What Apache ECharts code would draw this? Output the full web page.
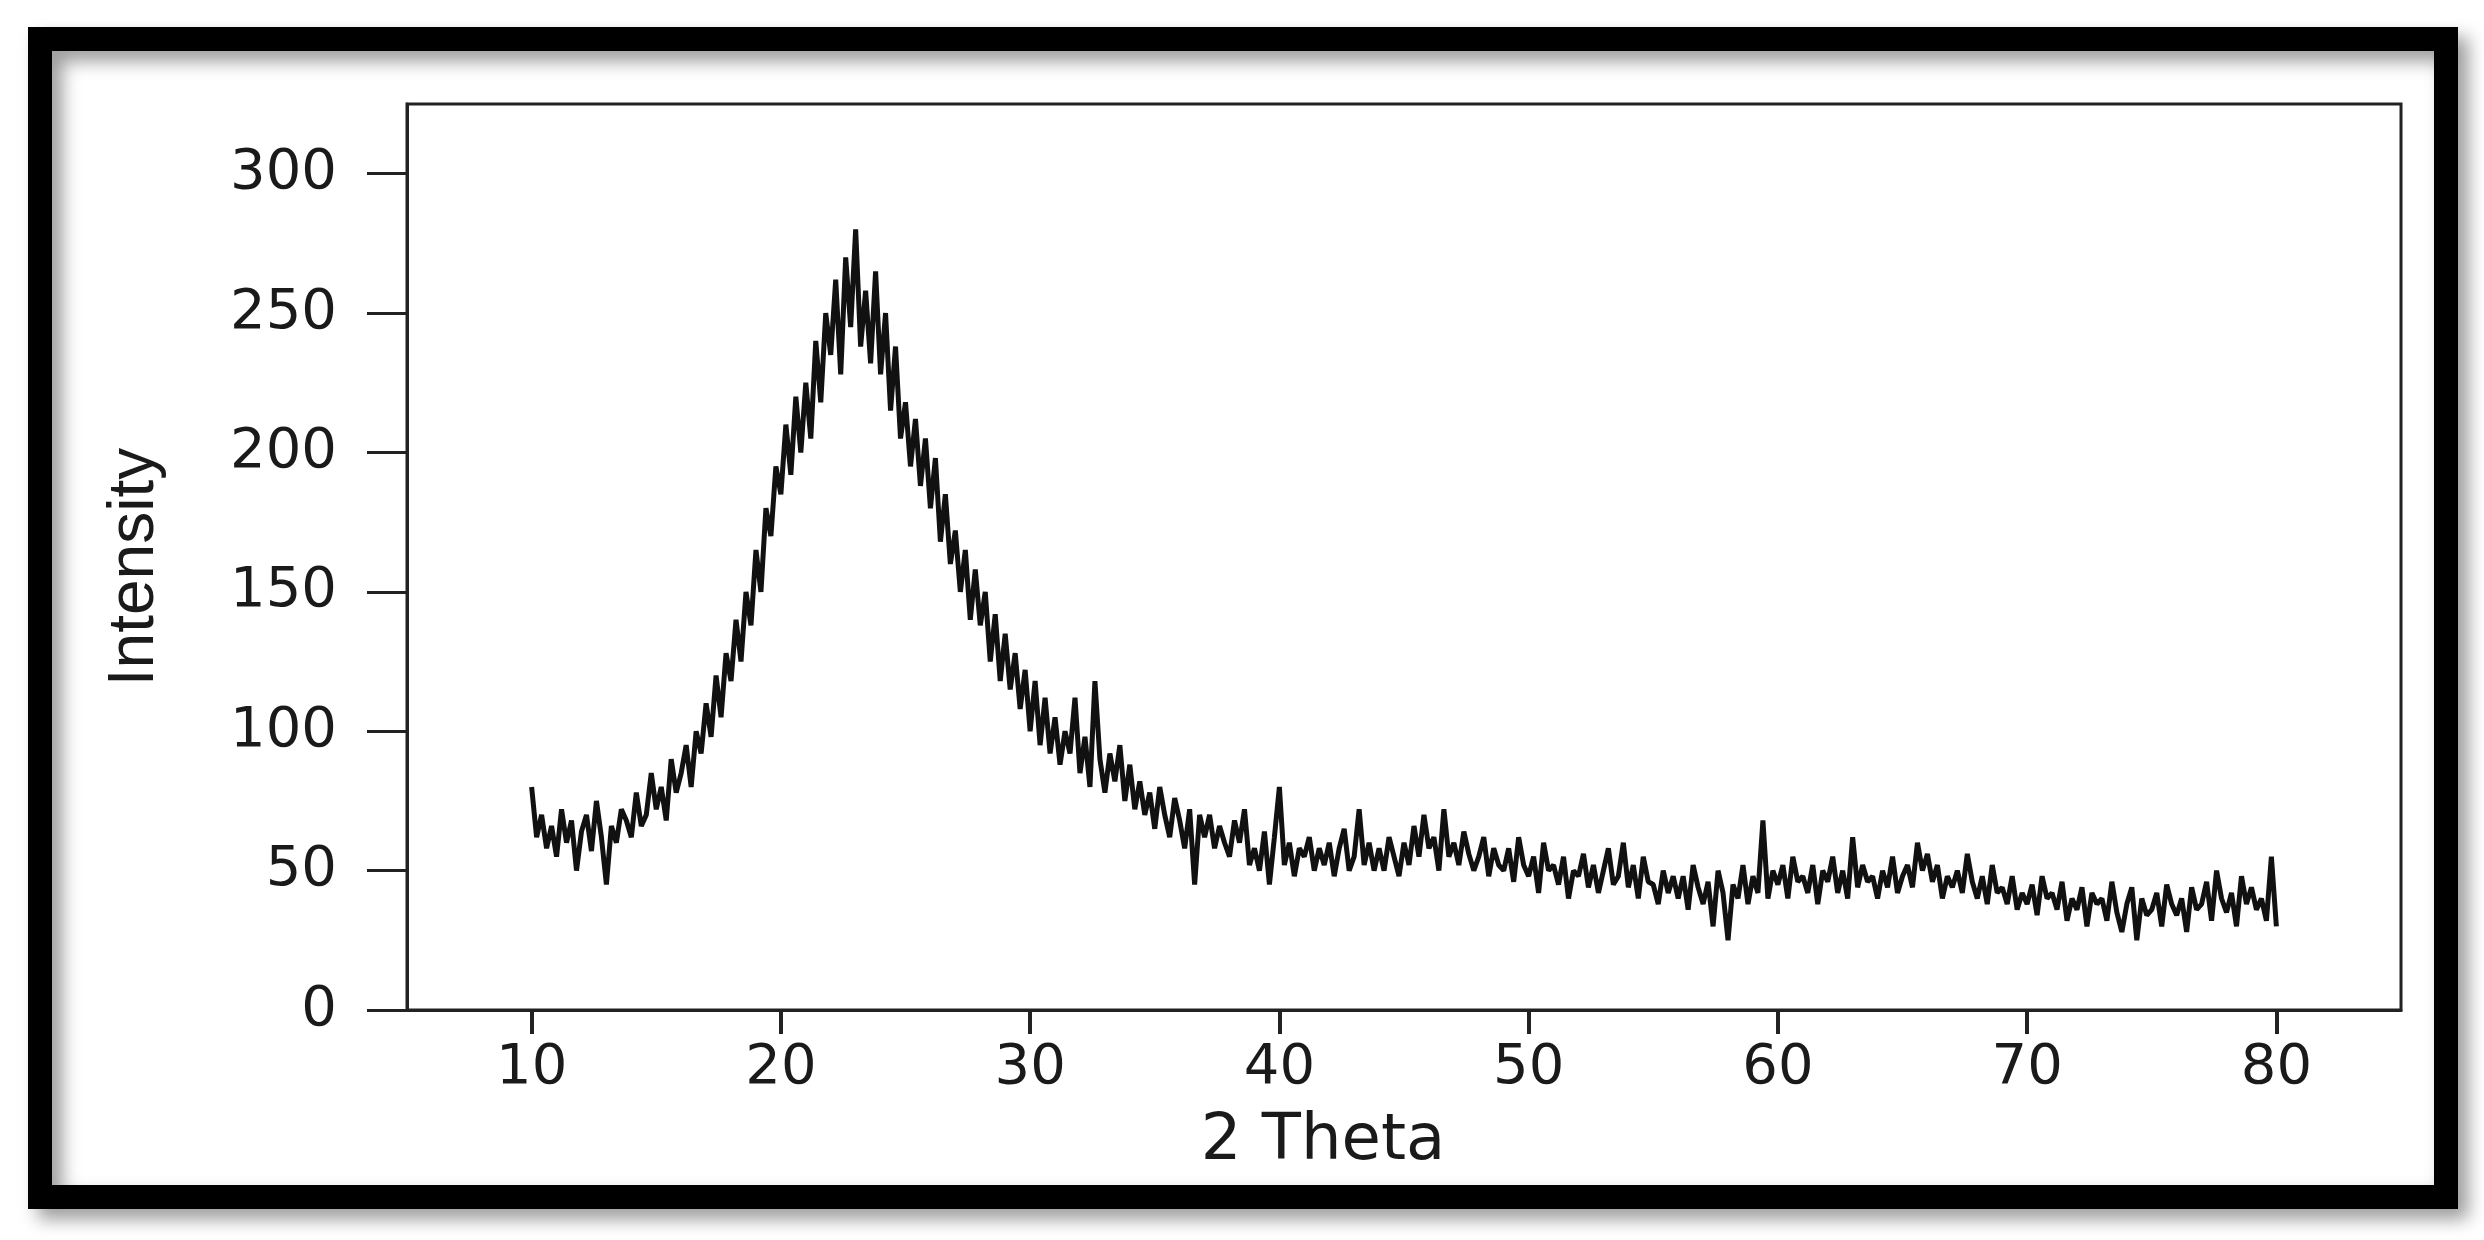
<!DOCTYPE html>
<html><head><meta charset="utf-8">
<script src="https://cdn.jsdelivr.net/npm/echarts@6/dist/echarts.min.js"></script>
<style>html,body{margin:0;padding:0;background:#fff}#c{width:2484px;height:1240px}</style>
</head><body><div id="c"></div>
<script>
const startAngle = 10, angleStep = 0.2;
const intensity = [
80,62,70,58,66, 55,72,60,68,50, 64,70,57,75,62, 45,66,60,72,68, 62,78,66,70,85,
72,80,68,90,78, 85,95,80,100,92, 110,98,120,105,128, 118,140,125,150,138, 165,150,180,170,195,
185,210,192,220,200, 225,205,240,218,250, 235,262,228,270,245, 280,238,258,232,265, 228,250,215,238,205,
218,195,212,188,205, 180,198,168,185,160, 172,150,165,140,158, 138,150,125,142,118, 135,115,128,108,122,
100,118,95,112,92, 105,88,100,92,112, 85,98,80,118,90, 78,92,82,95,75, 88,72,82,70,78,
65,80,70,62,76, 68,58,72,45,70, 62,70,58,66,60, 55,68,60,72,52, 58,50,64,45,62,
80,52,60,48,58, 55,62,50,58,52, 60,48,58,65,50, 55,72,52,60,50, 58,50,62,55,48,
60,52,66,55,70, 58,62,50,72,55, 60,52,64,56,50, 55,62,48,58,52, 50,58,46,62,52,
48,55,42,60,50, 52,45,55,40,50, 48,56,44,52,42, 50,58,45,48,60, 44,52,40,55,46,
45,38,50,42,48, 40,48,36,52,44, 38,46,30,50,42, 25,45,40,52,38, 48,42,68,40,50,
45,52,40,55,46, 48,42,52,38,50, 46,55,42,50,40, 62,44,52,46,48, 40,50,44,55,42,
48,52,44,60,50, 56,46,52,40,48, 44,50,42,56,46, 40,48,38,52,42, 44,38,48,36,42,
38,45,34,48,40, 42,36,46,32,40, 36,44,30,42,38, 40,32,46,35,28, 38,44,25,40,34,
36,42,30,45,38, 34,40,28,44,36, 38,46,32,50,40, 35,42,30,48,38, 44,36,40,32,55,
30
];
const xTicks = [10,20,30,40,50,60,70,80];
const yTicks = [0,50,100,150,200,250,300];
const xTitle = '2 Theta', yTitle = 'Intensity';

const pts = intensity.map((v,i)=>[+(startAngle + i*angleStep).toFixed(1), v]);
const font = '"DejaVu Sans", Arial, sans-serif';
const chart = echarts.init(document.getElementById('c'));
chart.setOption({
  backgroundColor:'#fff',
  animation:false,
  grid:{left:407,right:83,top:104,bottom:230,show:true,borderColor:'#222',borderWidth:3},
  xAxis:{type:'value',min:5,max:85,
    axisLine:{show:true,lineStyle:{color:'#222',width:3}},
    axisTick:{show:true,length:24,lineStyle:{color:'#222',width:4},customValues:xTicks},
    axisLabel:{customValues:xTicks,fontSize:56,color:'#1a1a1a',fontFamily:font,margin:30},
    splitLine:{show:false}},
  yAxis:{type:'value',min:0,max:325,interval:50,
    axisLine:{show:true,lineStyle:{color:'#222',width:3}},
    axisTick:{show:true,length:40,lineStyle:{color:'#222',width:3},customValues:yTicks},
    axisLabel:{customValues:yTicks,fontSize:56,color:'#1a1a1a',fontFamily:font,margin:70},
    splitLine:{show:false}},
  graphic:[
    {type:'rect',shape:{x:40,y:39,width:2406,height:1158},
     style:{fill:'none',stroke:'#000',lineWidth:24,shadowBlur:18,shadowOffsetX:10,shadowOffsetY:10,shadowColor:'rgba(0,0,0,0.4)'},z:100},
    {type:'text',x:1323,y:1142,style:{text:xTitle,font:'64px '+font,fill:'#1a1a1a',textAlign:'center',textVerticalAlign:'middle'}},
    {type:'text',x:135,y:567,rotation:Math.PI/2,style:{text:yTitle,font:'64px "Liberation Sans Narrow", Arial, sans-serif',fill:'#1a1a1a',textAlign:'center',textVerticalAlign:'middle'}}
  ],
  series:[{type:'line',data:pts,showSymbol:false,lineStyle:{color:'#111',width:5}}]
});
</script></body></html>
